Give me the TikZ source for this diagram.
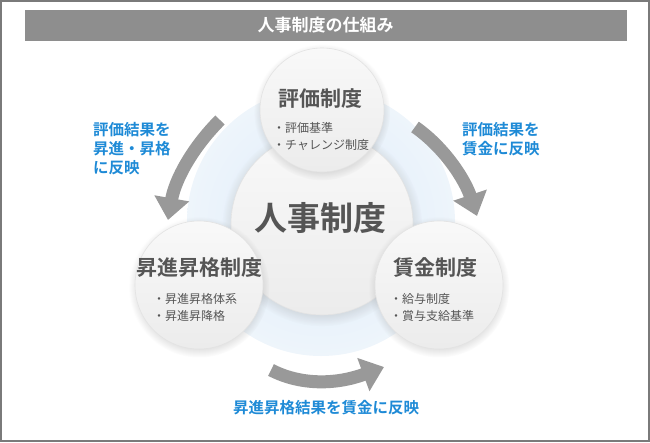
\documentclass[tikz,border=0pt]{standalone}
\usepackage{fontspec}
\setmainfont{Noto Sans CJK JP}[BoldFont={Noto Sans CJK JP Bold}]
\usetikzlibrary{arrows.meta,shadows}
\definecolor{bargray}{HTML}{8E8E8E}
\definecolor{framegray}{HTML}{7A7A7A}
\definecolor{txtgray}{HTML}{555555}
\definecolor{arrgray}{HTML}{999999}
\definecolor{lblue}{HTML}{1E8AD6}
\definecolor{pale}{HTML}{DDEBF8}
\tikzset{
  disc/.style={circle, draw=white!78!gray, line width=0.6pt, top color=white!95!gray, bottom color=white!85!gray,
    circular drop shadow={shadow xshift=0pt, shadow yshift=-2pt, opacity=0.25}},
  ctitle/.style={font=\bfseries\fontsize{21}{21}\selectfont, text=txtgray},
  bullets/.style={font=\fontsize{12}{17}\selectfont, text=txtgray, align=left, anchor=north west, inner sep=0pt},
  blabel/.style={font=\bfseries\fontsize{15.5}{19}\selectfont, text=lblue, align=left, inner sep=0pt},
  bigarrow/.style={draw=arrgray, line width=13pt, -{Triangle[width=34pt,length=22pt]}},
}
\begin{document}
\begin{tikzpicture}[x=1pt,y=-1pt]
\useasboundingbox (0,0) rectangle (650,442);
\draw[framegray, line width=2pt] (1,1) rectangle (649,441);
\node[fill=bargray, minimum width=602pt, minimum height=31pt, inner sep=0pt] (bar) at (325.5,25.5) {};
\node[text=white, font=\bfseries\fontsize{17}{17}\selectfont] (bartext) at (bar.center) {人事制度の仕組み};
% pale blue ring
\node[circle, minimum size=268pt, inner sep=0pt, inner color=pale, outer color=pale!50!white] (ring) at (321,222) {};
% centre disc
\node[disc, minimum size=182pt, inner sep=0pt] (core) at (322,224) {};
\node[font=\bfseries\fontsize{33}{33}\selectfont, text=txtgray] (coretext) at (320,218) {人事制度};
% outer discs
\node[disc, minimum size=124pt, inner sep=0pt] (top) at (322,110) {};
\node[disc, minimum size=128pt, inner sep=0pt] (left) at (199,285) {};
\node[disc, minimum size=128pt, inner sep=0pt] (right) at (439,285) {};
\node[ctitle] (toptitle) at (320,99) {評価制度};
\node[bullets] (topb) at (273,122) {・評価基準\\・チャレンジ制度};
\node[ctitle] (lefttitle) at (199,268) {昇進昇格制度};
\node[bullets] (leftb) at (153,293) {・昇進昇格体系\\・昇進昇降格};
\node[ctitle] (righttitle) at (435,268) {賃金制度};
\node[bullets] (rightb) at (390,293) {・給与制度\\・賞与支給基準};
% arrows
\coordinate (la) at (220,120);
\coordinate (lb) at (168,220);
\coordinate (ra) at (415,127);
\coordinate (rb) at (477,216);
\coordinate (ba) at (271,370);
\coordinate (bb) at (384,367);
\draw[bigarrow] (la) .. controls (192,148) and (175,180) .. (lb);
\draw[bigarrow] (ra) .. controls (445,148) and (465,180) .. (rb);
\draw[bigarrow] (ba) .. controls (300,385) and (335,385) .. (bb);
% labels
\node[blabel, anchor=north west] (ll) at (93,122) {評価結果を\\昇進・昇格\\に反映};
\node[blabel, anchor=north west] (rl) at (462,122) {評価結果を\\賃金に反映};
\node[blabel] (bl) at (326,408) {昇進昇格結果を賃金に反映};
\end{tikzpicture}
\end{document}
